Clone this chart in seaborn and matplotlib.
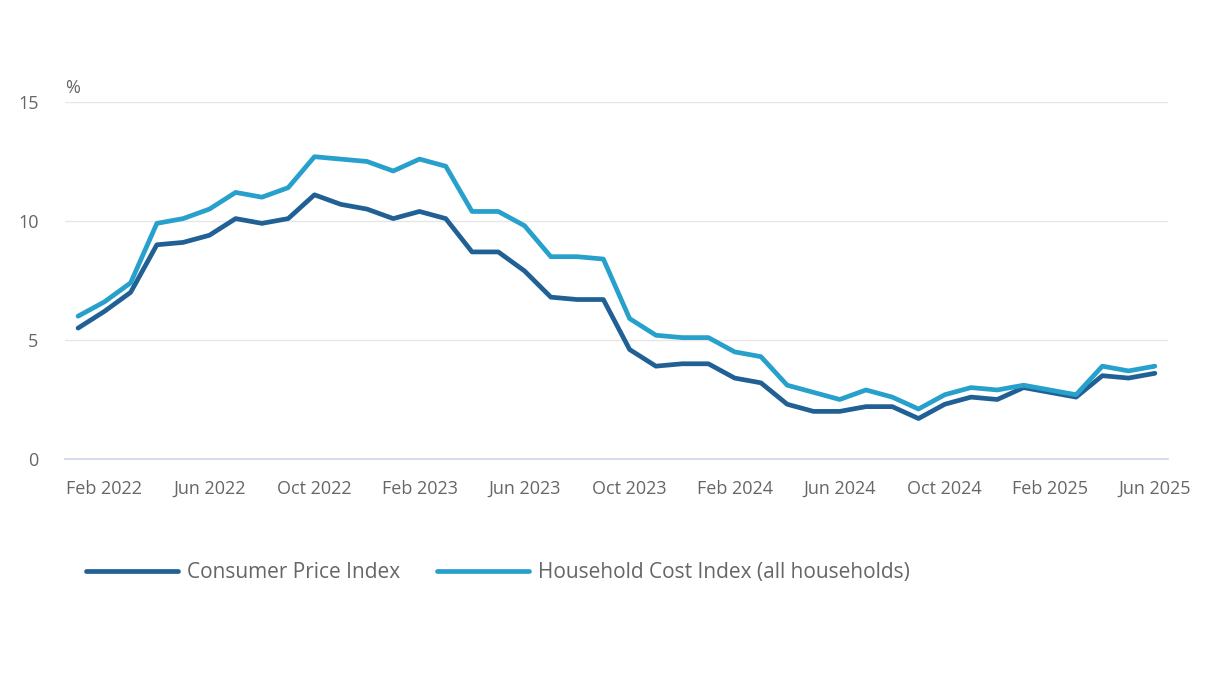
import numpy as np
import pandas as pd
import seaborn as sns
import matplotlib.pyplot as plt

months = pd.date_range("2022-01-01", "2025-06-01", freq="MS")

cpi = [5.5, 6.2, 7.0, 9.0, 9.1, 9.4, 10.1, 9.9, 10.1, 11.1, 10.7, 10.5,
       10.1, 10.4, 10.1, 8.7, 8.7, 7.9, 6.8, 6.7, 6.7, 4.6, 3.9, 4.0,
       4.0, 3.4, 3.2, 2.3, 2.0, 2.0, 2.2, 2.2, 1.7, 2.3, 2.6, 2.5,
       3.0, 2.8, 2.6, 3.5, 3.4, 3.6]

hci = [6.0, 6.6, 7.4, 9.9, 10.1, 10.5, 11.2, 11.0, 11.4, 12.7, 12.6, 12.5,
       12.1, 12.6, 12.3, 10.4, 10.4, 9.8, 8.5, 8.5, 8.4, 5.9, 5.2, 5.1,
       5.1, 4.5, 4.3, 3.1, 2.8, 2.5, 2.9, 2.6, 2.1, 2.7, 3.0, 2.9,
       3.1, 2.9, 2.7, 3.9, 3.7, 3.9]

series_names = ["Consumer Price Index", "Household Cost Index (all households)"]
colors = ["#206095", "#27a0cc"]

df = pd.DataFrame({
    "month": np.concatenate([np.arange(len(months))] * 2),
    "value": cpi + hci,
    "series": [series_names[0]] * len(cpi) + [series_names[1]] * len(hci),
})

sns.set_style("white")
plt.rcParams["font.family"] = ["Open Sans", "DejaVu Sans"]
text_col = "#666666"

fig = plt.figure(figsize=(12.3, 6.9), dpi=100)
ax = fig.add_axes([0.0528, 0.3348, 0.8968, 0.5174])

sns.lineplot(data=df, x="month", y="value", hue="series",
             palette=dict(zip(series_names, colors)), linewidth=3.4,
             ax=ax, legend=False)

ax.set_xlim(-0.5, len(months) - 0.5)
ax.set_ylim(0, 15)
ax.set_yticks([0, 5, 10, 15])
ax.yaxis.grid(True, color="#e6e6e6", linewidth=1)
ax.set_axisbelow(True)

# tick every 4 months starting Feb 2022
tick_idx = list(range(1, len(months), 4))
ax.set_xticks(tick_idx)
ax.set_xticklabels([months[i].strftime("%b %Y") for i in tick_idx])

for s in ["top", "right", "left"]:
    ax.spines[s].set_visible(False)
ax.spines["bottom"].set_color("#ccd6eb")
ax.spines["bottom"].set_linewidth(1.2)

ax.tick_params(axis="x", colors="#ccd6eb", length=10, width=1.2, labelsize=13,
               labelcolor=text_col, pad=5)
ax.tick_params(axis="y", length=0, labelsize=13, labelcolor=text_col, pad=19)
ax.set_xlabel("")
ax.set_ylabel("")
ax.text(0.0, 1.015, "%", transform=ax.transAxes, fontsize=13, color=text_col,
        ha="left", va="bottom")

handles = [plt.Line2D([], [], color=c, linewidth=3.4) for c in colors]
fig.legend(handles, series_names, loc="center left", bbox_to_anchor=(0.055, 0.170),
           ncol=2, frameon=False, fontsize=15, handlelength=4.4, handletextpad=0.45,
           columnspacing=1.75, labelcolor=text_col)

fig.savefig("out.png", dpi=100)
